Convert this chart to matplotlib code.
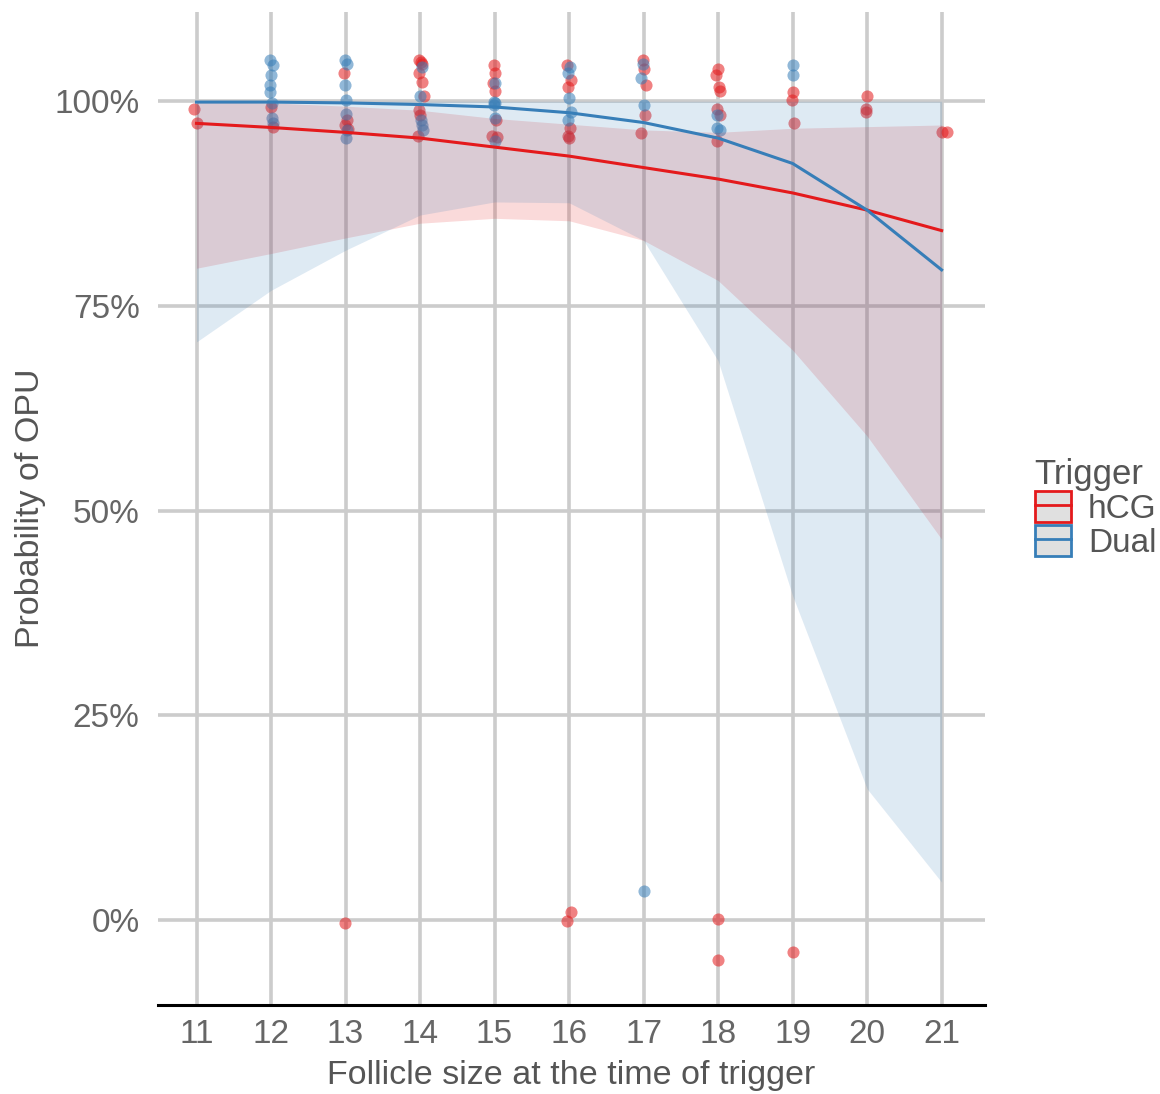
import matplotlib
matplotlib.use("Agg")
import matplotlib.pyplot as plt
from matplotlib.patches import Patch
from matplotlib.lines import Line2D
from matplotlib.legend_handler import HandlerTuple
from matplotlib.ticker import FuncFormatter

# fitted curves and confidence bands (percent), evaluated at each follicle size
sizes = [11, 12, 13, 14, 15, 16, 17, 18, 19, 20, 21]
hcg_fit = [97.3, 96.8, 96.2, 95.5, 94.4, 93.3, 91.9, 90.5, 88.8, 86.7, 84.2]
hcg_lo = [79.6, 81.4, 83.3, 85.1, 85.7, 85.4, 83.0, 78.1, 69.6, 59.1, 46.5]
hcg_hi = [99.9, 99.8, 99.4, 98.9, 97.9, 97.2, 96.5, 96.2, 96.7, 96.9, 97.1]
dual_fit = [99.9, 99.9, 99.8, 99.6, 99.3, 98.6, 97.4, 95.5, 92.4, 86.7, 79.4]
dual_lo = [70.6, 76.9, 81.8, 86.1, 87.7, 87.6, 83.0, 68.3, 39.6, 16.0, 4.6]
dual_hi = [100.0, 100.0, 100.0, 100.0, 100.0, 100.0, 100.0, 100.0, 100.0, 100.0, 100.0]

# jittered observations (x, percent)
hcg_x = [10.97, 11.0,
         12.0, 12.03,
         12.98, 13.02, 12.99, 13.03, 12.99,
         13.98, 14.01, 14.03, 13.99, 14.02, 14.05, 13.98, 14.0, 13.97,
         14.99, 15.0, 14.98, 15.01, 15.02, 14.97, 15.03,
         15.97, 16.02, 15.98, 16.01, 15.98, 16.0, 15.97, 16.02,
         16.99, 17.01, 17.03, 17.02, 16.97,
         18.0, 17.97, 18.01, 18.02, 17.98, 18.02, 17.99, 18.0, 18.0,
         19.0, 18.99, 19.02, 19.0,
         20.0, 19.99, 19.99,
         21.0, 21.07]
hcg_y = [99.1, 97.3,
         99.3, 96.8,
         103.5, 97.7, 97.1, 96.6, -0.4,
         105.0, 104.8, 104.6, 103.4, 102.3, 100.7, 98.9, 98.3, 95.8,
         104.4, 103.4, 102.2, 101.3, 97.7, 95.8, 95.6,
         104.4, 102.6, 101.7, 96.7, 95.8, 95.5, -0.2, 0.9,
         105.0, 104.0, 102.0, 98.3, 96.1,
         104.0, 103.2, 101.7, 101.3, 99.1, 98.3, 95.2, 0.1, -4.9,
         101.1, 100.1, 97.4, -3.9,
         100.6, 99.1, 98.7,
         96.2, 96.2]
dual_x = [11.98, 12.02, 12.0, 11.99, 11.98, 12.01, 12.01, 12.02,
          12.99, 13.02, 12.99, 13.0, 13.01, 13.02, 13.01,
          14.02, 14.0, 14.01, 14.02, 14.04,
          15.0, 14.99, 15.0, 14.99, 15.0, 15.01,
          16.01, 15.98, 16.0, 16.02, 15.99,
          16.99, 16.97, 17.0, 17.0,
          17.99, 17.98, 18.02,
          19.0, 19.0]
dual_y = [105.0, 104.4, 103.2, 102.0, 101.1, 99.8, 98.0, 97.4,
          105.0, 104.6, 102.0, 100.1, 98.5, 96.5, 95.5,
          104.2, 100.7, 97.7, 97.1, 96.5,
          102.2, 99.9, 99.8, 99.5, 98.0, 95.2,
          104.2, 103.4, 100.4, 98.7, 97.7,
          104.6, 102.9, 99.5, 3.5,
          98.3, 96.7, 96.5,
          104.4, 103.2]

x_ticks = [11, 12, 13, 14, 15, 16, 17, 18, 19, 20, 21]
y_ticks = [0, 25, 50, 75, 100]

red = "#E41A1C"
blue = "#377EB8"
grid_col = "#cccccc"
text_col = "#666666"

plt.rcParams["font.family"] = ["Liberation Sans", "DejaVu Sans"]

fig = plt.figure(figsize=(11.6, 10.94), dpi=100)
ax = fig.add_axes([0.136, 0.0814, 0.713, 0.9076])

ax.scatter(hcg_x, hcg_y, s=76, color=red, alpha=0.55, linewidths=0, zorder=2)
ax.scatter(dual_x, dual_y, s=76, color=blue, alpha=0.55, linewidths=0, zorder=2)

ax.fill_between(sizes, hcg_lo, hcg_hi, color=red, alpha=0.16, linewidth=0, zorder=3)
ax.fill_between(sizes, dual_lo, dual_hi, color=blue, alpha=0.16, linewidth=0, zorder=3)
ax.plot(sizes, hcg_fit, color=red, lw=2.2, zorder=4)
ax.plot(sizes, dual_fit, color=blue, lw=2.2, zorder=4)

ax.set_xlim(10.48, 21.58)
ax.set_ylim(-10.4, 110.9)
ax.set_xticks(x_ticks)
ax.set_yticks(y_ticks)
ax.yaxis.set_major_formatter(FuncFormatter(lambda v, p: f"{v:.0f}%"))
ax.grid(True, color=grid_col, lw=2.6, zorder=0)
ax.set_axisbelow(True)
ax.tick_params(length=0, labelsize=24, labelcolor=text_col)
ax.tick_params(axis="y", pad=13)
ax.tick_params(axis="x", pad=10)

for side in ["top", "right", "left"]:
    ax.spines[side].set_visible(False)
ax.spines["bottom"].set_color("black")
ax.spines["bottom"].set_linewidth(2.2)

ax.set_xlabel("Follicle size at the time of trigger", fontsize=24.5,
              color="#555555", labelpad=7)
ax.set_ylabel("Probability of OPU", fontsize=24.5, color="#555555",
              labelpad=6)

handles = [
    (Patch(facecolor="#e0e0e0", edgecolor=red, lw=2), Line2D([], [], color=red, lw=2)),
    (Patch(facecolor="#e0e0e0", edgecolor=blue, lw=2), Line2D([], [], color=blue, lw=2)),
]
leg = fig.legend(handles, ["hCG", "Dual"], title="Trigger",
                 handler_map={tuple: HandlerTuple(ndivide=1)},
                 loc="center left", bbox_to_anchor=(0.892, 0.535),
                 frameon=False, fontsize=24, title_fontsize=25,
                 handlelength=1.1, handleheight=1.05, handletextpad=0.5,
                 labelspacing=0.0, labelcolor="#555555", borderaxespad=0,
                 borderpad=0)
leg.get_title().set_color("#555555")
leg._legend_box.align = "left"

fig.savefig("out.png", dpi=100)
